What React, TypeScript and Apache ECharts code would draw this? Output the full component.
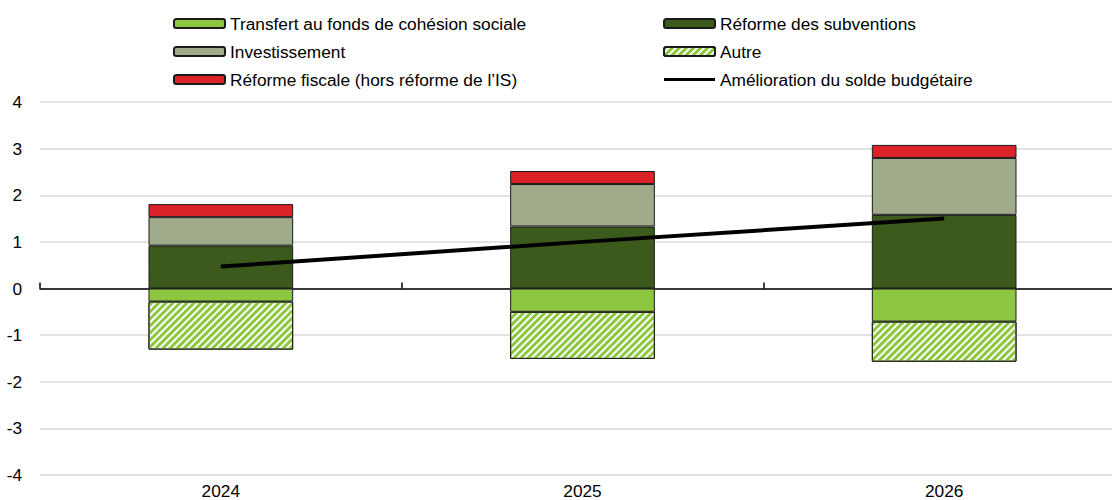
import React, { useEffect, useRef } from "react";
import * as echarts from "echarts";

const categories = ["2024", "2025", "2026"];
const transfert = [-0.28, -0.5, -0.71];
const subventions = [0.92, 1.33, 1.58];
const investissement = [0.61, 0.91, 1.22];
const autre = [-1.03, -1.01, -0.86];
const fiscale = [0.28, 0.28, 0.28];
const solde = [0.47, 1.0, 1.5];

const names = {
  transfert: "Transfert au fonds de cohésion sociale",
  subventions: "Réforme des subventions",
  investissement: "Investissement",
  autre: "Autre",
  fiscale: "Réforme fiscale (hors réforme de l’IS)",
  solde: "Amélioration du solde budgétaire",
};

export default function App() {
  const ref = useRef<HTMLDivElement>(null);
  useEffect(() => {
    document.body.style.margin = "0";
    const chart = echarts.init(ref.current!, null, { renderer: "svg" });
    const font = "'Liberation Sans', Arial, sans-serif";
    const fs = 17.3;
    const border = { borderColor: "#1a1a1a", borderWidth: 1 };
    const legendCommon = {
      orient: "vertical" as const,
      top: 15,
      padding: 0,
      itemWidth: 51,
      itemHeight: 9,
      itemGap: 11,
      textStyle: { fontFamily: font, fontSize: fs, color: "#000", lineHeight: 15 },
      selectedMode: false,
    };
    chart.setOption({
      animation: false,
      textStyle: { fontFamily: font },
      legend: [
        { ...legendCommon, left: 173, data: [names.transfert, names.investissement, names.fiscale] },
        {
          ...legendCommon,
          left: 663,
          data: [
            names.subventions,
            names.autre,
            { name: names.solde, icon: "path://M0,0 L0.01,0 L0.01,0.01 Z M0,3 L51,3 L51,6 L0,6 Z M51,9 L50.99,9 L50.99,8.99 Z" },
          ],
        },
      ],
      grid: { left: 40, top: 102, height: 373, width: 1085, containLabel: false },
      xAxis: [
        {
          type: "category",
          data: categories,
          position: "bottom",
          axisLine: { show: false, onZero: false },
          axisTick: { show: false },
          axisLabel: { fontFamily: font, fontSize: fs, color: "#000", margin: 7 },
        },
        {
          type: "category",
          data: categories,
          position: "bottom",
          axisLine: { show: true, onZero: true, lineStyle: { color: "#000", width: 1.5 } },
          axisTick: { show: true, inside: true, length: 6, lineStyle: { color: "#000", width: 1.5 } },
          axisLabel: { show: false },
        },
      ],
      yAxis: {
        type: "value",
        min: -4,
        max: 4,
        interval: 1,
        axisLine: { show: false },
        axisTick: { show: false },
        axisLabel: { fontFamily: font, fontSize: fs, color: "#000", margin: 18 },
        splitLine: { lineStyle: { color: "#d9d9d9", width: 1.5 } },
      },
      series: [
        {
          name: names.subventions,
          type: "bar",
          stack: "s",
          barWidth: "40%",
          data: subventions,
          itemStyle: { color: "#3C5A1C", ...border },
        },
        {
          name: names.investissement,
          type: "bar",
          stack: "s",
          data: investissement,
          itemStyle: { color: "#A0AB8C", ...border },
        },
        {
          name: names.fiscale,
          type: "bar",
          stack: "s",
          data: fiscale,
          itemStyle: { color: "#DC2229", ...border },
        },
        {
          name: names.transfert,
          type: "bar",
          stack: "s",
          data: transfert,
          itemStyle: { color: "#8DC63F", ...border },
        },
        {
          name: names.autre,
          type: "bar",
          stack: "s",
          data: autre,
          itemStyle: {
            color: "#ffffff",
            ...border,
            decal: {
              symbol: "rect",
              symbolSize: 1,
              color: "#8DC63F",
              backgroundColor: "#ffffff",
              dashArrayX: [1, 0],
              dashArrayY: [3, 2],
              rotation: -Math.PI / 4,
            },
          },
        },
        {
          name: names.solde,
          type: "line",
          data: solde,
          symbol: "none",
          lineStyle: { color: "#000", width: 4 },
          itemStyle: { color: "#000" },
          z: 5,
        },
      ],
    });
    return () => chart.dispose();
  }, []);
  return (
    <div style={{ width: 1112, height: 500, overflow: "hidden" }}>
      <div ref={ref} style={{ width: 1130, height: 500 }} />
    </div>
  );
}
